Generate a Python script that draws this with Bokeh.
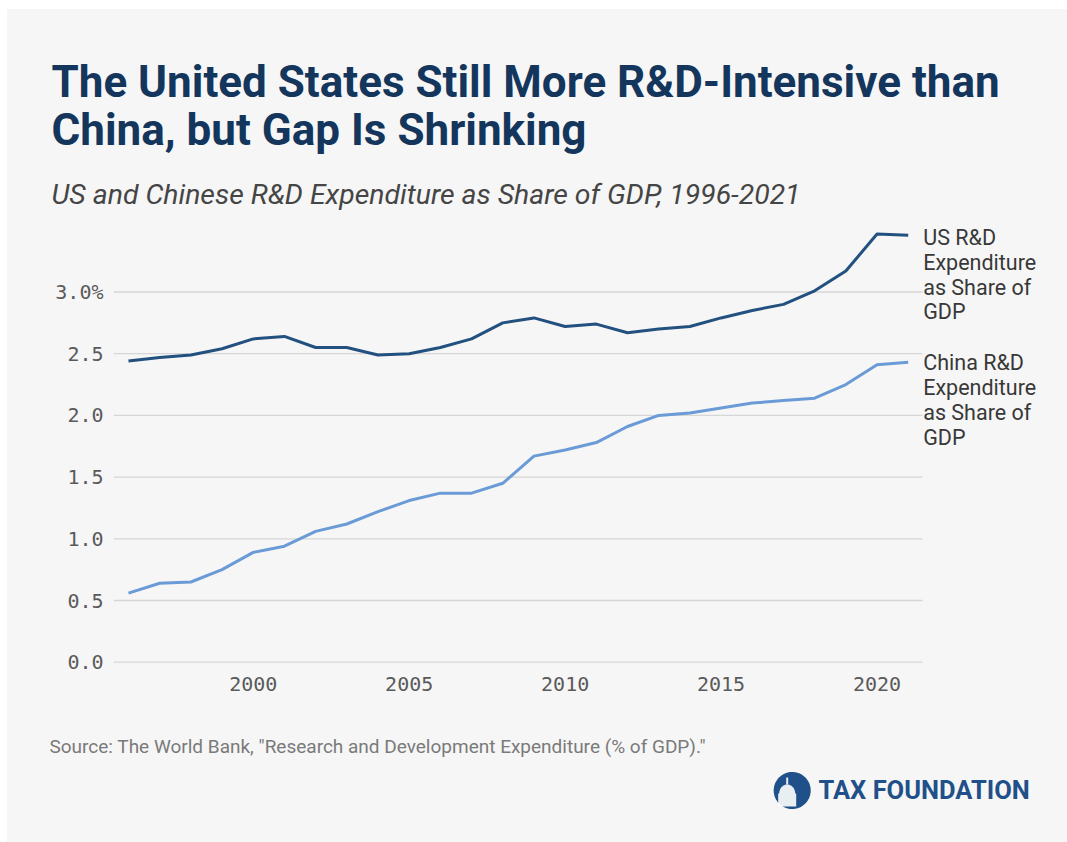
import numpy as np
from bokeh.plotting import figure
from bokeh.layouts import column
from bokeh.models import Label, FixedTicker, PolyAnnotation, Range1d
from bokeh.embed import file_html
from bokeh.resources import INLINE

# ---------------- data ----------------
years = list(range(1996, 2022))
us_values = [2.44, 2.47, 2.49, 2.54, 2.62, 2.64, 2.55, 2.55, 2.49, 2.50, 2.55, 2.62, 2.75,
             2.79, 2.72, 2.74, 2.67, 2.70, 2.72, 2.79, 2.85, 2.90, 3.01, 3.17, 3.47, 3.46]
china_values = [0.56, 0.64, 0.65, 0.75, 0.89, 0.94, 1.06, 1.12, 1.22, 1.31, 1.37, 1.37, 1.45,
                1.67, 1.72, 1.78, 1.91, 2.00, 2.02, 2.06, 2.10, 2.12, 2.14, 2.25, 2.41, 2.43]
us_label_lines = ["US R&D", "Expenditure", "as Share of", "GDP"]
china_label_lines = ["China R&D", "Expenditure", "as Share of", "GDP"]
y_ticks = [0.0, 0.5, 1.0, 1.5, 2.0, 2.5, 3.0]
y_tick_labels = ["0.0", "0.5", "1.0", "1.5", "2.0", "2.5", "3.0%"]
x_ticks = [2000, 2005, 2010, 2015, 2020]
x_tick_labels = ["2000", "2005", "2010", "2015", "2020"]

title_lines = ["The United States Still More R&D-Intensive than", "China, but Gap Is Shrinking"]
subtitle = "US and Chinese R&D Expenditure as Share of GDP, 1996-2021"
source = 'Source: The World Bank, "Research and Development Expenditure (% of GDP)."'
brand = "TAX FOUNDATION"

# ---------------- style ----------------
BG = "#f6f6f6"
US_COLOR = "#22507f"
CN_COLOR = "#6b9bd6"
TITLE_COLOR = "#14365d"
BRAND_COLOR = "#1f5089"
W = 1060
H_HEAD, H_MAIN, H_FOOT = 206, 505, 122


def blank(height):
    f = figure(width=W, height=height, output_backend="svg", toolbar_location=None,
               x_range=Range1d(0, W), y_range=Range1d(0, height),
               min_border=0, background_fill_color=BG, border_fill_color=BG,
               outline_line_color=None, frame_align=False)
    f.axis.visible = False
    f.grid.visible = False
    return f


# ---------------- header ----------------
head = blank(H_HEAD)
for txt, yb in ((title_lines[0], 134), (title_lines[1], 86)):
    head.add_layout(Label(x=44, y=yb, x_units="screen", y_units="screen", text=txt,
                          text_font="Roboto", text_font_style="bold", text_font_size="44px",
                          text_color=TITLE_COLOR, text_baseline="alphabetic"))
head.add_layout(Label(x=44, y=21.5, x_units="screen", y_units="screen", text=subtitle,
                      text_font="Roboto", text_font_style="italic", text_font_size="28.4px",
                      text_color="#454545", text_baseline="alphabetic"))

# ---------------- main chart ----------------
X0 = 1995.52
PX_PER_YEAR = 31.19
FRAME_W = W - 106
p = figure(width=W, height=H_MAIN, output_backend="svg", toolbar_location=None,
           x_range=Range1d(X0, X0 + FRAME_W / PX_PER_YEAR), y_range=Range1d(-0.0348, 3.62),
           min_border_left=106, min_border_right=0, min_border_top=0, min_border_bottom=54,
           background_fill_color=BG, border_fill_color=BG, outline_line_color=None)

# horizontal gridlines stopping just after the last year
p.segment(x0=[X0] * len(y_ticks), x1=[years[-1] + 0.46] * len(y_ticks), y0=y_ticks, y1=y_ticks,
          line_color="#d6d6d6", line_width=1.3)
p.line(years, china_values, line_color=CN_COLOR, line_width=3)
p.line(years, us_values, line_color=US_COLOR, line_width=3)

p.grid.visible = False
p.yaxis.ticker = FixedTicker(ticks=y_ticks)
p.yaxis.major_label_overrides = {t: l for t, l in zip(y_ticks, y_tick_labels)}
p.xaxis.ticker = FixedTicker(ticks=x_ticks)
p.xaxis.major_label_overrides = {t: l for t, l in zip(x_ticks, x_tick_labels)}
for ax in (p.xaxis, p.yaxis):
    ax.axis_line_color = None
    ax.major_tick_line_color = None
    ax.minor_tick_line_color = None
    ax.major_tick_out = 0
    ax.major_tick_in = 0
    ax.major_label_text_font = "DejaVu Sans Mono"
    ax.major_label_text_font_size = "20px"
    ax.major_label_text_color = "#5a5a5a"
p.yaxis.major_label_standoff = 10
p.xaxis.major_label_standoff = 10

LH = 24.8
for lines, vals, off in ((us_label_lines, us_values, 2.3), (china_label_lines, china_values, 0.5)):
    for i, txt in enumerate(lines):
        p.add_layout(Label(x=years[-1], y=vals[-1], x_offset=15, y_offset=-(off + LH * i),
                           text=txt, text_font="Roboto", text_font_size="21.5px",
                           text_color="#383838", text_baseline="alphabetic"))

# ---------------- footer ----------------
foot = blank(H_FOOT)
foot.add_layout(Label(x=42, y=96.5, x_units="screen", y_units="screen", text=source,
                      text_font="Roboto", text_font_size="19px",
                      text_color="#7a7a7a", text_baseline="alphabetic"))
cx, cy, r = 784.7, 52, 18.5
th = np.linspace(0, 2 * np.pi, 72)
foot.add_layout(PolyAnnotation(xs=list(cx + r * np.cos(th)), ys=list(cy + r * np.sin(th)),
                               xs_units="screen", ys_units="screen",
                               fill_color=BRAND_COLOR, fill_alpha=1, line_color=None))
# simplified white capitol dome inside the logo disc
dt = np.linspace(0, np.pi, 30)
dome_x = list(cx - 5 + 8 * np.cos(dt)) + [cx - 14, cx - 14, cx + 4, cx + 4]
dome_y = list(cy - 3 + 9 * np.sin(dt)) + [cy - 3, cy - 16, cy - 16, cy - 3]
foot.add_layout(PolyAnnotation(xs=dome_x, ys=dome_y, xs_units="screen", ys_units="screen",
                               fill_color="white", fill_alpha=0.9, line_color=None))
foot.add_layout(PolyAnnotation(xs=[cx - 6, cx - 4, cx - 4, cx - 6], ys=[cy + 6, cy + 6, cy + 13, cy + 13],
                               xs_units="screen", ys_units="screen",
                               fill_color="white", fill_alpha=0.9, line_color=None))
foot.add_layout(Label(x=811, y=52.5, x_units="screen", y_units="screen", text=brand,
                      text_font="Roboto", text_font_style="bold", text_font_size="25.5px",
                      text_color=BRAND_COLOR, text_baseline="alphabetic"))

layout = column(head, p, foot, spacing=0, margin=(9, 0, 0, 7),
                styles={"background-color": BG})
open("out.html", "w").write(file_html(layout, INLINE))
